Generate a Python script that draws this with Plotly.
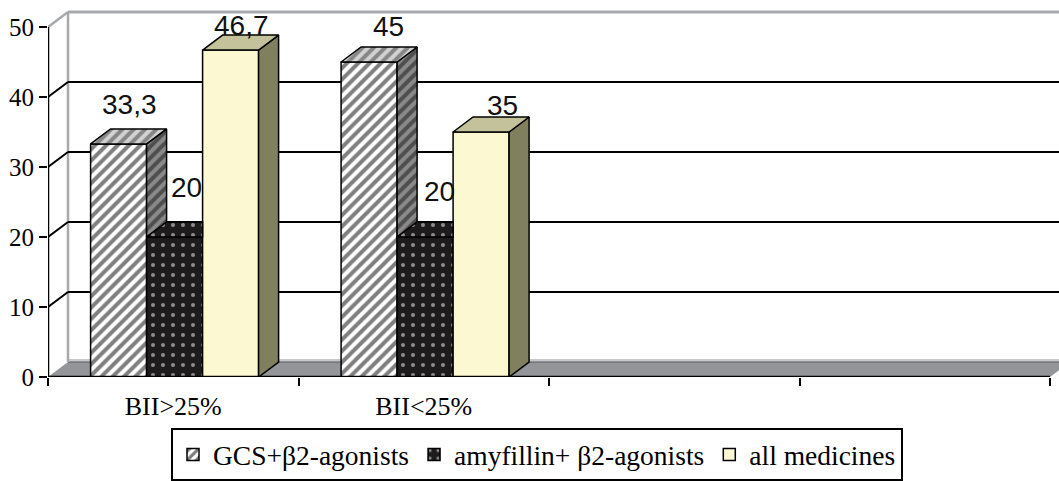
import plotly.graph_objects as go

# ---------------- data ----------------
categories = ["BII>25%", "BII<25%"]
slot_labels = ["BII>25%", "BII<25%", "", ""]
series_names = ["GCS+β2-agonists", "amyfillin+ β2-agonists", "all medicines"]
gcs_values = [33.3, 45]
amyfillin_values = [20, 20]
all_medicines_values = [46.7, 35]
y_ticks = [0, 10, 20, 30, 40, 50]

series_values = [gcs_values, amyfillin_values, all_medicines_values]

# ---------------- style / geometry ----------------
SERIF = "Liberation Serif"
SANS = "Liberation Sans"
PX_X = 250.5            # px per category
PX_Y = 7.0              # px per y unit
DX = 20 / PX_X          # 3D depth offset (x, data units)
DY = 15 / PX_Y          # 3D depth offset (y, data units)
W = 56 / PX_X           # bar width
OFFSETS = [-0.33, -0.33 + W, -0.33 + 2 * W]
X_RANGE = [-0.5, -0.5 + 1011 / PX_X]
Y_RANGE = [0, 377 / PX_Y]

stripe = dict(shape="/", size=8, solidity=0.5)
dots = dict(shape=".", size=10, solidity=0.13)
front_styles = [
    dict(color="white", pattern=dict(fgcolor="#000000", bgcolor="white", **stripe)),
    dict(color="#1E1B1C", pattern=dict(fgcolor="white", bgcolor="#1E1B1C", **dots)),
    dict(color="#FCF8D2"),
]
top_styles = [
    dict(fillcolor="#D2D2D2", fillpattern=dict(fgcolor="#3A3A3A", bgcolor="#D2D2D2", **stripe)),
    dict(fillcolor="#1E1B1C", fillpattern=dict(fgcolor="white", bgcolor="#1E1B1C", **dots)),
    dict(fillcolor="#C4C29B"),
]
side_styles = [
    dict(fillcolor="#8A8A8A", fillpattern=dict(fgcolor="#111111", bgcolor="#8A8A8A", **stripe)),
    dict(fillcolor="#1E1B1C", fillpattern=dict(fgcolor="white", bgcolor="#1E1B1C", **dots)),
    dict(fillcolor="#80805F"),
]
# label pixel shifts (xshift, yshift) per series per category
label_shifts = [
    [(11, 39), (19, 36)],
    [(12, 50), (14, 46)],
    [(11, 25), (21, 27)],
]

fig = go.Figure()

# front faces as bars
for s, name in enumerate(series_names):
    fig.add_trace(go.Bar(
        x=list(range(len(categories))), y=series_values[s], name=name,
        width=W, offset=OFFSETS[s],
        marker=dict(line=dict(color="black", width=1.5), **front_styles[s]),
    ))

# 3D top and side faces derived from the values
for i in range(len(categories)):
    for s in range(len(series_names)):
        h = series_values[s][i]
        x0 = i + OFFSETS[s]
        x1 = x0 + W
        hn = series_values[s + 1][i] if s + 1 < len(series_names) else None
        side = None
        if hn is None:
            side = ([x1, x1, x1 + DX, x1 + DX, x1], [0, h, h + DY, DY, 0])
        elif hn < h:
            side = ([x1, x1, x1 + DX, x1 + DX, x1], [hn, h, h + DY, hn + DY, hn])
        if side:
            fig.add_trace(go.Scatter(x=side[0], y=side[1], mode="lines", fill="toself",
                                     line=dict(color="black", width=1.5), showlegend=False,
                                     hoverinfo="skip", **side_styles[s]))
        if hn is None or hn <= h:
            top = ([x0, x1, x1 + DX, x0 + DX, x0], [h, h, h + DY, h + DY, h])
        else:
            top = ([x0, x1, x1, x0 + DX, x0], [h, h, h + DY, h + DY, h])
        fig.add_trace(go.Scatter(x=top[0], y=top[1], mode="lines", fill="toself",
                                 line=dict(color="black", width=1.5), showlegend=False,
                                 hoverinfo="skip", **top_styles[s]))

# walls, floor, gridlines
shapes = []
xl = X_RANGE[0]
xr = X_RANGE[1] + 0.2
ytop = y_ticks[-1]
shapes.append(dict(type="path", layer="below", xref="x", yref="y",
                   path=f"M {xl},0 L 3.5,0 L {3.5 + DX},{DY} L {xl + DX},{DY} Z",
                   fillcolor="#939598", line=dict(width=0)))
shapes.append(dict(type="line", layer="below", xref="x", yref="y", x0=xl + DX, x1=xr, y0=DY, y1=DY,
                   line=dict(color="#6D6E71", width=1.5)))
shapes.append(dict(type="line", layer="below", xref="x", yref="y", x0=xl + DX, x1=xr, y0=DY + 0.3, y1=DY + 0.3,
                   line=dict(color="#B5B6B8", width=1.5)))
shapes.append(dict(type="line", layer="below", xref="x", yref="y", x0=xl + DX, x1=xr, y0=ytop + DY, y1=ytop + DY,
                   line=dict(color="#A7A9AC", width=3)))
shapes.append(dict(type="line", layer="below", xref="x", yref="y", x0=xl + DX, x1=xl + DX, y0=DY, y1=ytop + DY,
                   line=dict(color="#A7A9AC", width=2.5)))
shapes.append(dict(type="line", layer="below", xref="x", yref="y", x0=xl, x1=xl + DX, y0=ytop, y1=ytop + DY,
                   line=dict(color="#A7A9AC", width=2.5)))
for v in y_ticks[1:-1]:
    shapes.append(dict(type="line", layer="below", xref="x", yref="y", x0=xl, x1=xl + DX, y0=v, y1=v + DY,
                       line=dict(color="black", width=2)))
    shapes.append(dict(type="line", layer="below", xref="x", yref="y", x0=xl + DX, x1=xr, y0=v + DY, y1=v + DY,
                       line=dict(color="black", width=2)))
shapes.append(dict(type="line", layer="below", xref="x", yref="y", x0=xl, x1=xl, y0=0, y1=ytop,
                   line=dict(color="black", width=2.5)))
shapes.append(dict(type="line", layer="above", xref="x", yref="y", x0=xl, x1=3.5, y0=0, y1=0,
                   line=dict(color="black", width=2.5)))

# data labels
annotations = []
for s in range(len(series_names)):
    for i, v in enumerate(series_values[s]):
        annotations.append(dict(
            x=i + OFFSETS[s] + W / 2, y=v, xref="x", yref="y",
            text=f"{v:g}".replace(".", ","), showarrow=False,
            xanchor="center", yanchor="middle",
            xshift=label_shifts[s][i][0], yshift=label_shifts[s][i][1],
            font=dict(family=SANS, size=28, color="#111111"),
        ))

fig.update_layout(
    width=1059, height=481,
    margin=dict(l=48, r=0, t=0, b=104, autoexpand=False),
    paper_bgcolor="white", plot_bgcolor="white",
    barmode="overlay",
    shapes=shapes, annotations=annotations,
    showlegend=True,
    legend=dict(
        orientation="h", x=(537 - 48) / 1011, xanchor="center",
        y=(377 - 481) / 377, yanchor="bottom",
        font=dict(family=SERIF, size=27.5, color="black"),
        bordercolor="black", borderwidth=2, bgcolor="white",
        itemwidth=30, traceorder="normal",
    ),
    xaxis=dict(
        range=X_RANGE, tickmode="array", tickvals=list(range(len(slot_labels))), ticktext=slot_labels,
        ticks="outside", ticklen=6, tickcolor="rgba(0,0,0,0)",
        tickfont=dict(family=SERIF, size=26, color="black"),
        showgrid=False, zeroline=False, showline=False, fixedrange=True,
        minor=dict(tickmode="array", tickvals=[k - 0.5 for k in range(len(slot_labels) + 1)],
                   ticks="outside", ticklen=8, tickwidth=2, tickcolor="black", showgrid=False),
    ),
    yaxis=dict(
        range=Y_RANGE, tickmode="array", tickvals=y_ticks,
        ticks="outside", ticklen=8, tickwidth=2, tickcolor="black",
        tickfont=dict(family=SERIF, size=25, color="black"),
        showgrid=False, zeroline=False, showline=False, fixedrange=True,
    ),
)

fig.write_html("out.html")
